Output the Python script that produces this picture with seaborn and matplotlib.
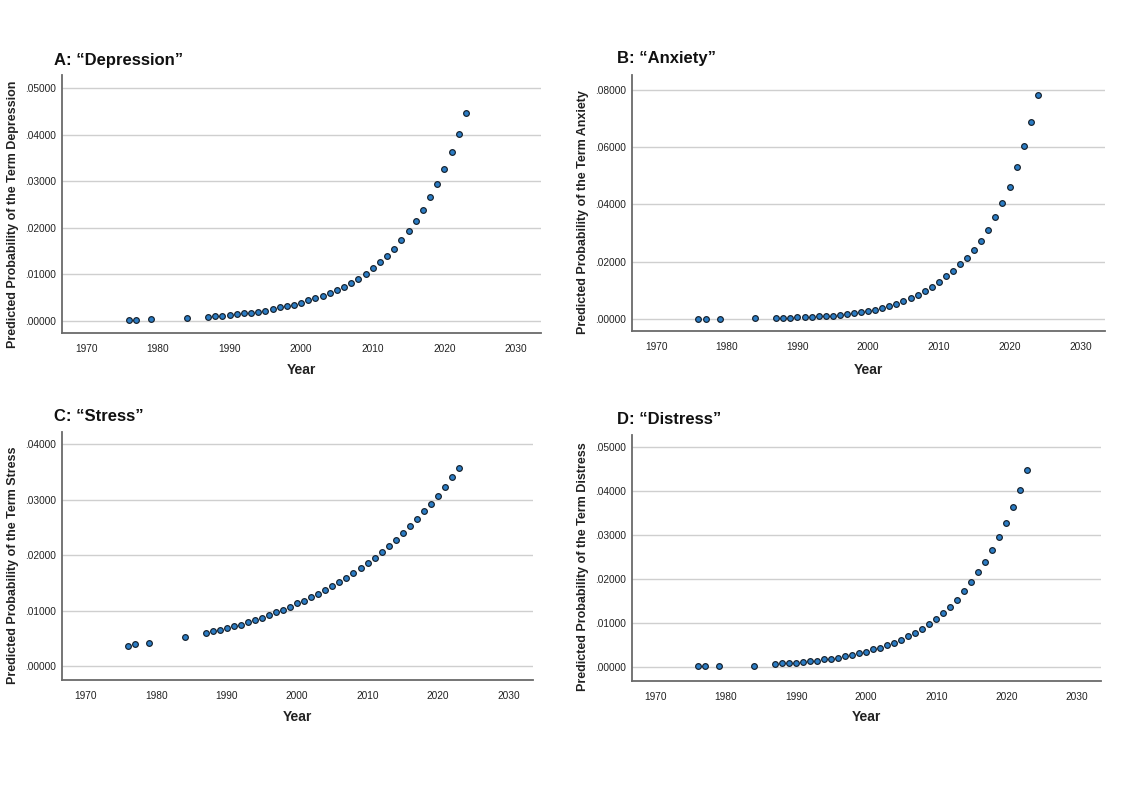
import numpy as np
import pandas as pd
import matplotlib
matplotlib.use("Agg")
import matplotlib.pyplot as plt
from matplotlib.ticker import FuncFormatter
import seaborn as sns


YEARS = [1976, 1977, 1979, 1984] + list(range(1987, 2024))
YEARS_ANXIETY = [1976, 1977, 1979, 1984] + list(range(1987, 2025))

DEPRESSION = [
    0.0002, 0.0002, 0.0003, 0.0006,
    0.0009, 0.0011, 0.0011, 0.0013, 0.0014, 0.0016, 0.0018, 0.0020, 0.0022, 0.0025,
    0.0029, 0.0031, 0.0035, 0.0039, 0.0044, 0.0049, 0.0054, 0.0060, 0.0067, 0.0073,
    0.0081, 0.0091, 0.0101, 0.0113, 0.0126, 0.0139, 0.0155, 0.0173, 0.0193, 0.0214,
    0.0238, 0.0265, 0.0294, 0.0327, 0.0363, 0.0402, 0.0446,
]
ANXIETY = [
    0.0001, 0.0001, 0.0001, 0.0002,
    0.0004, 0.0005, 0.0005, 0.0006, 0.0007, 0.0008, 0.0009, 0.0010, 0.0012, 0.0014,
    0.0017, 0.0021, 0.0024, 0.0028, 0.0033, 0.0039, 0.0046, 0.0053, 0.0062, 0.0072,
    0.0084, 0.0097, 0.0112, 0.0130, 0.0149, 0.0169, 0.0191, 0.0213, 0.0240, 0.0272,
    0.0311, 0.0355, 0.0405, 0.0462, 0.0529, 0.0603, 0.0689, 0.0783,
]
STRESS = [
    0.0037, 0.0039, 0.0042, 0.0052,
    0.0060, 0.0063, 0.0066, 0.0069, 0.0072, 0.0075, 0.0080, 0.0084, 0.0087, 0.0092,
    0.0097, 0.0102, 0.0107, 0.0113, 0.0118, 0.0124, 0.0130, 0.0137, 0.0144, 0.0151,
    0.0159, 0.0167, 0.0176, 0.0185, 0.0194, 0.0205, 0.0216, 0.0227, 0.0240, 0.0252,
    0.0265, 0.0279, 0.0293, 0.0306, 0.0323, 0.0340, 0.0357,
]
DISTRESS = [
    0.0001, 0.0001, 0.0002, 0.0003,
    0.0006, 0.0008, 0.0008, 0.0010, 0.0011, 0.0013, 0.0014, 0.0017, 0.0019, 0.0021,
    0.0024, 0.0028, 0.0031, 0.0035, 0.0040, 0.0044, 0.0049, 0.0055, 0.0062, 0.0070,
    0.0078, 0.0087, 0.0098, 0.0109, 0.0122, 0.0137, 0.0153, 0.0173, 0.0194, 0.0215,
    0.0239, 0.0265, 0.0295, 0.0327, 0.0363, 0.0402, 0.0448,
]

TITLES = ["A: \u201cDepression\u201d", "B: \u201cAnxiety\u201d", "C: \u201cStress\u201d", "D: \u201cDistress\u201d"]
TERMS = ["Depression", "Anxiety", "Stress", "Distress"]
X_TICKS = [1970, 1980, 1990, 2000, 2010, 2020, 2030]
Y_TICKS = [
    [0.0, 0.01, 0.02, 0.03, 0.04, 0.05],
    [0.0, 0.02, 0.04, 0.06, 0.08],
    [0.0, 0.01, 0.02, 0.03, 0.04],
    [0.0, 0.01, 0.02, 0.03, 0.04, 0.05],
]

W, H = 1123, 793
# axes boxes in pixels: left, top, right, bottom
BOXES = [(62, 75, 541, 333), (632, 75, 1105, 331), (62, 432, 533, 680), (632, 435, 1101, 681)]
YLIMS = [(-0.0026, 0.0528), (-0.0042, 0.0852), (-0.0025, 0.0422), (-0.0032, 0.0527)]
TITLE_POS = [(54, 60), (617, 59), (54, 417), (617, 419)]

DOT_FILL = "#2b7cc4"
DOT_EDGE = "#15202c"
GRID = "#cfcfcf"
SPINE = "#6a6a6a"
TEXT = "#222222"


def fmt_prob(v, pos):
    return f"{v:.5f}".replace("0.", ".", 1)


def draw_panel(fig, i, years, values):
    l, t, r, b = BOXES[i]
    ax = fig.add_axes([l / W, 1 - b / H, (r - l) / W, (b - t) / H])
    df = pd.DataFrame({"Year": years, "prob": values})
    sns.scatterplot(data=df, x="Year", y="prob", ax=ax, s=17, color=DOT_FILL,
                    edgecolor=DOT_EDGE, linewidth=0.85, zorder=3)
    ax.set_xlim(1966.6, 2033.5)
    ax.set_ylim(*YLIMS[i])
    ax.set_xticks(X_TICKS)
    ax.set_yticks(Y_TICKS[i])
    ax.yaxis.set_major_formatter(FuncFormatter(fmt_prob))
    ax.yaxis.grid(True, color=GRID, linewidth=1.0)
    ax.xaxis.grid(False)
    ax.set_axisbelow(True)
    for side in ["top", "right"]:
        ax.spines[side].set_visible(False)
    for side in ["left", "bottom"]:
        ax.spines[side].set_color(SPINE)
        ax.spines[side].set_linewidth(1.3)
    ax.tick_params(axis="both", length=0, labelsize=7.3, labelcolor=TEXT)
    ax.tick_params(axis="x", pad=8)
    ax.tick_params(axis="y", pad=4)

    ax.set_xlabel("Year", fontsize=10, fontweight="bold", color=TEXT)
    ax.set_ylabel(f"Predicted Probability of the Term {TERMS[i]}", fontsize=9,
                  fontweight="bold", color=TEXT)
    xl_y = (b - [370, 370, 717, 717][i]) / (b - t)
    ax.xaxis.set_label_coords(0.5, xl_y)
    ax.xaxis.label.set_va("center")
    yl_x = ([13, 583, 13, 583][i] - l) / (r - l)
    yl_y = (b - [214, 212, 565, 567][i]) / (b - t)
    ax.yaxis.set_label_coords(yl_x, yl_y)
    ax.yaxis.label.set_va("center")

    tx, ty = TITLE_POS[i]
    fig.text(tx / W, 1 - ty / H, TITLES[i], fontsize=12, fontweight="bold",
             color="#111111", ha="left", va="center")
    return ax


sns.set_theme(style="white")
plt.rcParams["font.family"] = ["Liberation Sans", "DejaVu Sans"]

fig = plt.figure(figsize=(W / 100, H / 100), dpi=100)
fig.patch.set_facecolor("white")

draw_panel(fig, 0, YEARS, DEPRESSION)
draw_panel(fig, 1, YEARS_ANXIETY, ANXIETY)
draw_panel(fig, 2, YEARS, STRESS)
draw_panel(fig, 3, YEARS, DISTRESS)

fig.savefig("out.png", dpi=100, facecolor="white")
